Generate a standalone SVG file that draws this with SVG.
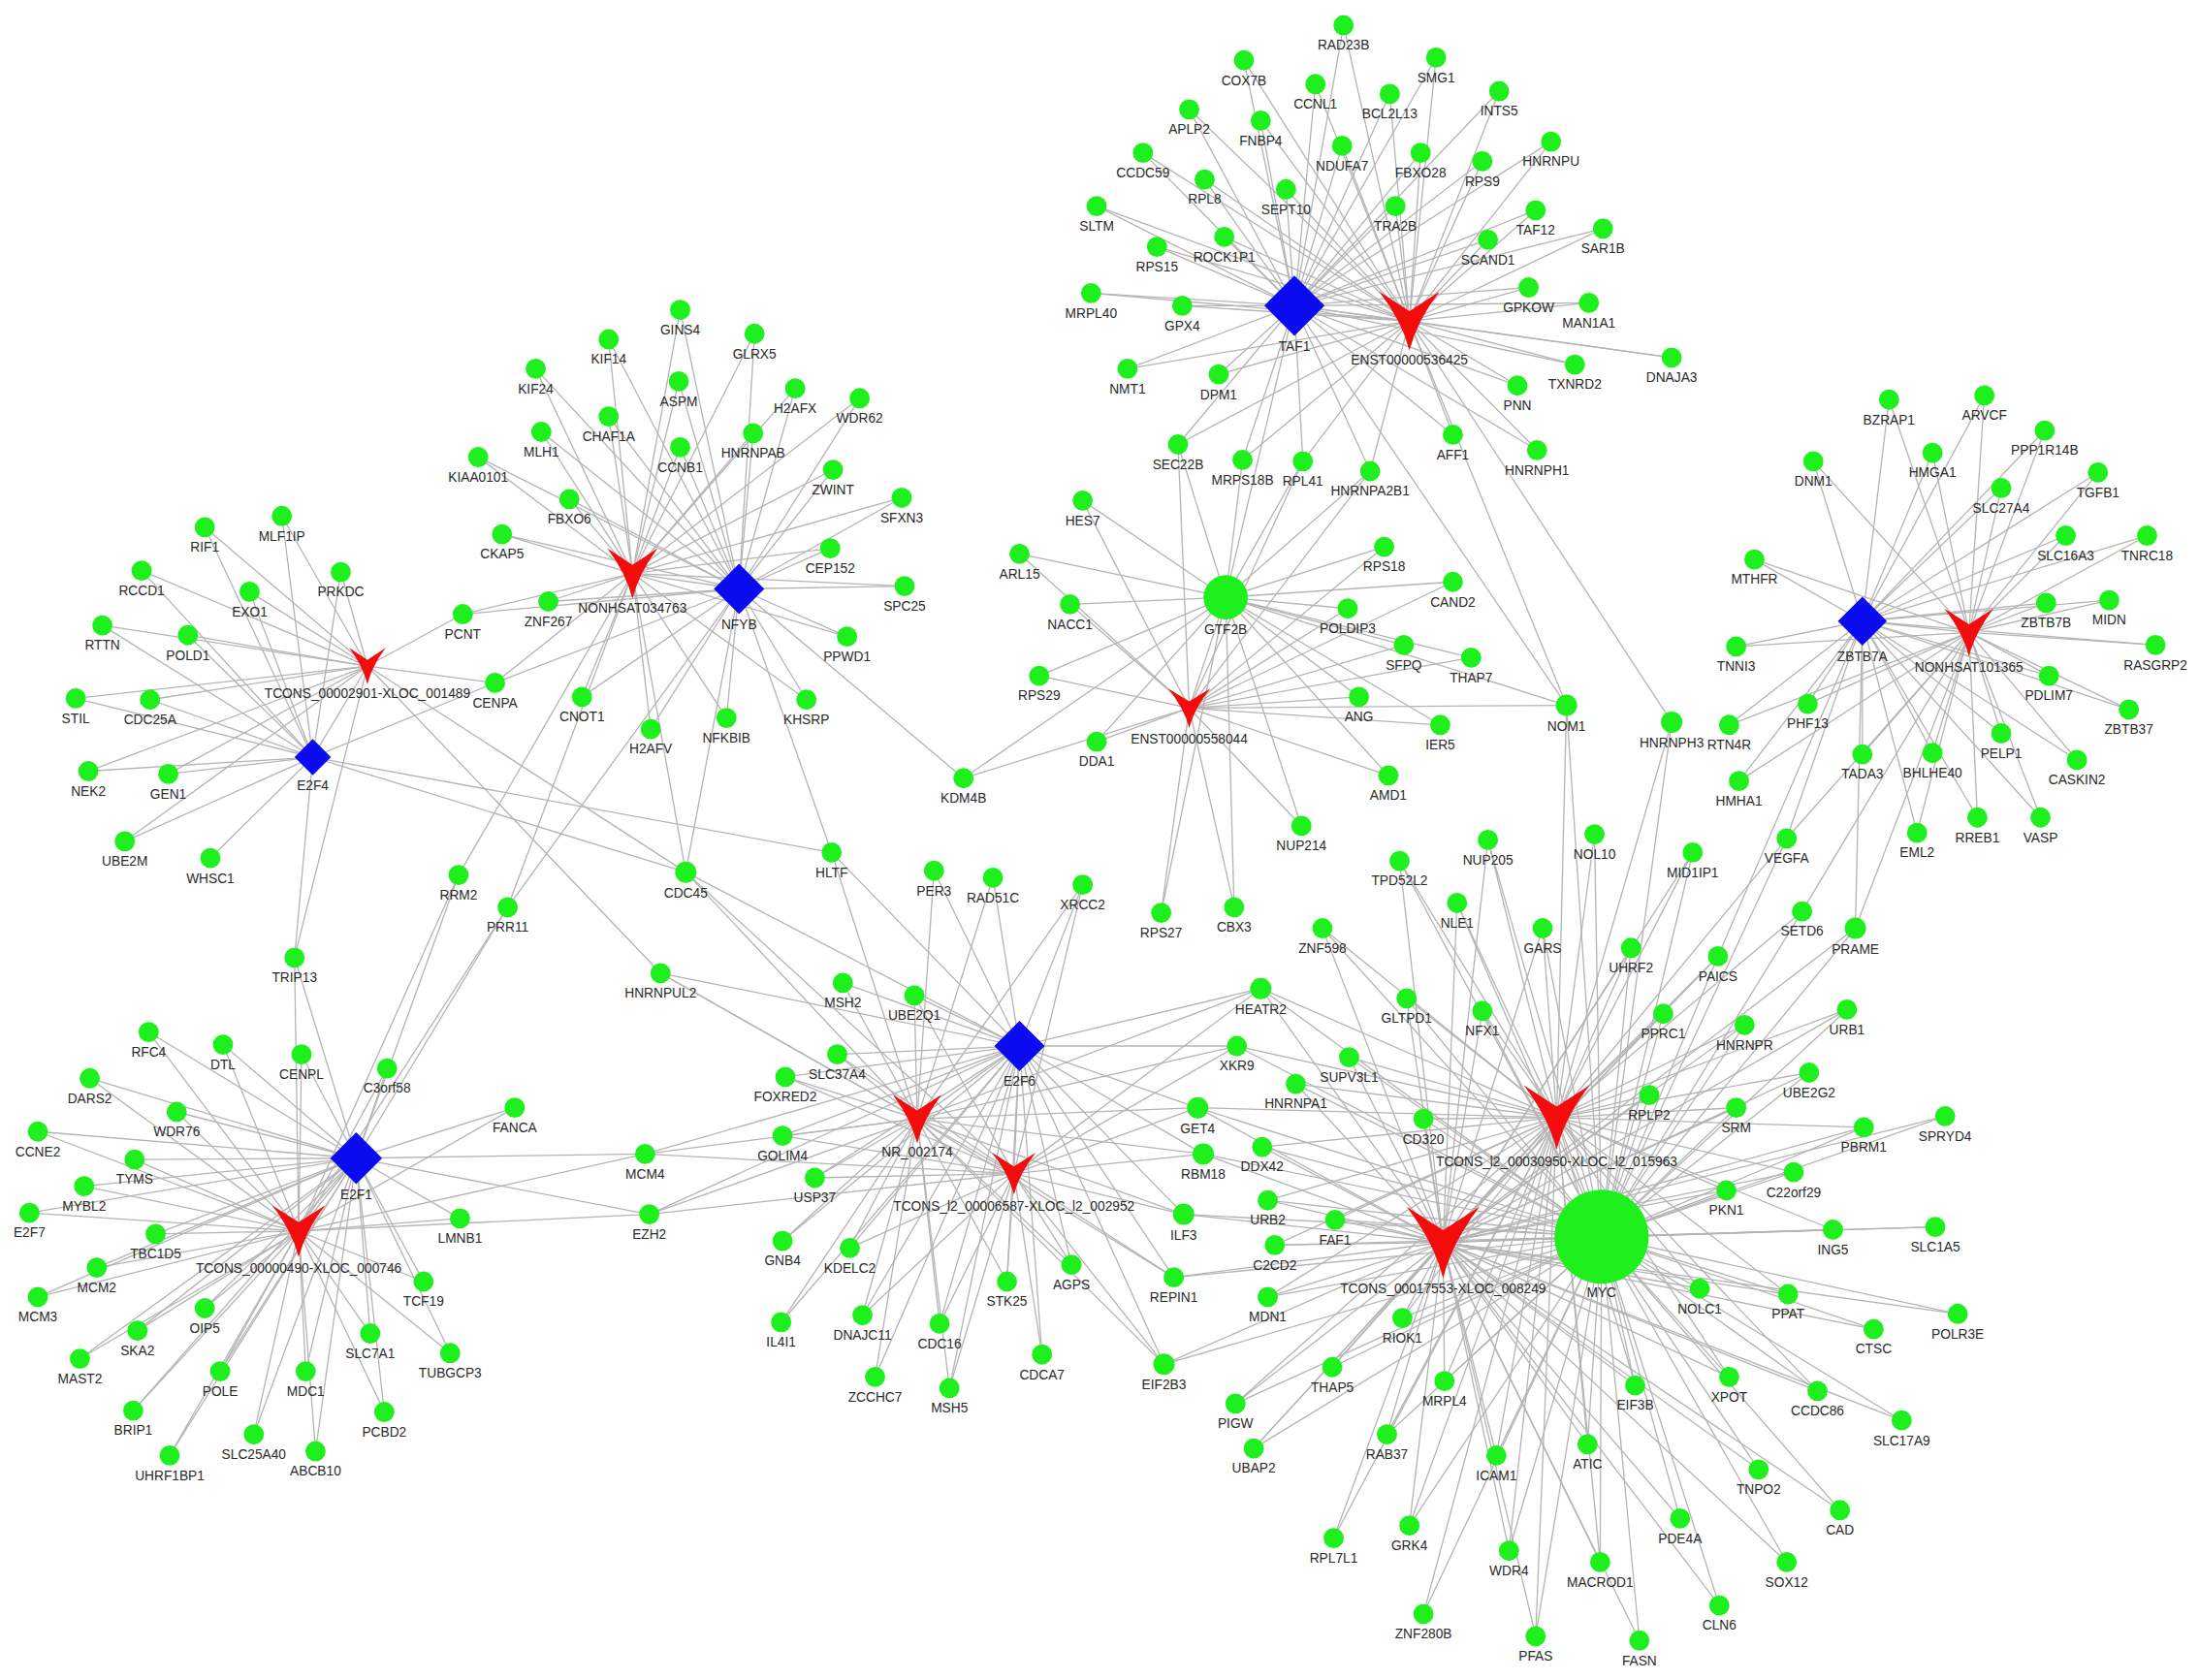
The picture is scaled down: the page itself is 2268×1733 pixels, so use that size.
<svg xmlns="http://www.w3.org/2000/svg" width="2268" height="1733" viewBox="0 0 2268 1733">
<style>
.e path{stroke:#b4b4b4;stroke-width:0.9;fill:none}
.nd circle{fill:#1ef01e}
text{font-family:"Liberation Sans",Arial,sans-serif;font-size:9.5px;fill:#2a2a2a;text-anchor:middle}
.dm{fill:#0b0bf0}
.vv{fill:#f40c0c}
</style>
<defs>
<path id="dm" d="M0 -1L1 0L0 1L-1 0Z"/>
<path id="vv" d="M-1 -1L0 -0.34L1 -1Q0.25 0 0 1Q-0.25 0 -1 -1Z"/>
</defs>
<rect width="2268" height="1733" fill="#fff"/>
<g transform="scale(1.4464)">
<g id="edges" class="e">
<g id="e-T29">
<path d="M262 475L146 376"/><path d="M262 475L201 368"/><path d="M262 475L101 407"/><path d="M262 475L178 422"/><path d="M262 475L243 408"/><path d="M262 475L73 446"/><path d="M262 475L134 453"/><path d="M262 475L54 498"/><path d="M262 475L107 499"/><path d="M262 475L63 550"/><path d="M262 475L120 552"/><path d="M262 475L89 600"/><path d="M262 475L330 438"/><path d="M262 475L353 487"/><path d="M262 475L210 683"/><path d="M262 475L471 694"/><path d="M262 475L489 622"/><path d="M262 475L223 540"/>
</g>
<g id="e-E2F4">
<path d="M223 540L146 376"/><path d="M223 540L201 368"/><path d="M223 540L101 407"/><path d="M223 540L178 422"/><path d="M223 540L243 408"/><path d="M223 540L73 446"/><path d="M223 540L134 453"/><path d="M223 540L54 498"/><path d="M223 540L107 499"/><path d="M223 540L63 550"/><path d="M223 540L120 552"/><path d="M223 540L89 600"/><path d="M223 540L150 612"/><path d="M223 540L353 487"/><path d="M223 540L210 683"/><path d="M223 540L489 622"/><path d="M223 540L593 608"/>
</g>
<g id="e-N034">
<path d="M451 409L485 221"/><path d="M451 409L434 242"/><path d="M451 409L538 238"/><path d="M451 409L382 263"/><path d="M451 409L484 272"/><path d="M451 409L567 277"/><path d="M451 409L613 284"/><path d="M451 409L434 297"/><path d="M451 409L537 309"/><path d="M451 409L386 308"/><path d="M451 409L485 319"/><path d="M451 409L341 326"/><path d="M451 409L594 335"/><path d="M451 409L406 356"/><path d="M451 409L643 355"/><path d="M451 409L358 381"/><path d="M451 409L592 391"/><path d="M451 409L645 418"/><path d="M451 409L391 429"/><path d="M451 409L604 454"/><path d="M451 409L415 497"/><path d="M451 409L575 499"/><path d="M451 409L464 520"/><path d="M451 409L518 512"/><path d="M451 409L330 438"/><path d="M451 409L353 487"/><path d="M451 409L327 624"/><path d="M451 409L362 647"/><path d="M451 409L489 622"/><path d="M451 409L527 420"/>
</g>
<g id="e-NFYB">
<path d="M527 420L485 221"/><path d="M527 420L434 242"/><path d="M527 420L538 238"/><path d="M527 420L382 263"/><path d="M527 420L484 272"/><path d="M527 420L567 277"/><path d="M527 420L613 284"/><path d="M527 420L434 297"/><path d="M527 420L537 309"/><path d="M527 420L386 308"/><path d="M527 420L485 319"/><path d="M527 420L341 326"/><path d="M527 420L594 335"/><path d="M527 420L406 356"/><path d="M527 420L643 355"/><path d="M527 420L358 381"/><path d="M527 420L592 391"/><path d="M527 420L645 418"/><path d="M527 420L391 429"/><path d="M527 420L604 454"/><path d="M527 420L415 497"/><path d="M527 420L575 499"/><path d="M527 420L464 520"/><path d="M527 420L518 512"/><path d="M527 420L330 438"/><path d="M527 420L353 487"/><path d="M527 420L362 647"/><path d="M527 420L489 622"/><path d="M527 420L687 555"/><path d="M527 420L593 608"/>
</g>
<g id="e-TAF1">
<path d="M923 218L958 18"/><path d="M923 218L887 43"/><path d="M923 218L1024 41"/><path d="M923 218L938 60"/><path d="M923 218L1069 65"/><path d="M923 218L991 67"/><path d="M923 218L848 78"/><path d="M923 218L899 86"/><path d="M923 218L957 104"/><path d="M923 218L1106 101"/><path d="M923 218L1013 109"/><path d="M923 218L1057 115"/><path d="M923 218L815 109"/><path d="M923 218L859 128"/><path d="M923 218L917 135"/><path d="M923 218L782 147"/><path d="M923 218L995 147"/><path d="M923 218L1095 150"/><path d="M923 218L1143 163"/><path d="M923 218L1061 171"/><path d="M923 218L825 176"/><path d="M923 218L873 169"/><path d="M923 218L778 209"/><path d="M923 218L843 218"/><path d="M923 218L1090 205"/><path d="M923 218L1133 216"/><path d="M923 218L804 263"/><path d="M923 218L869 267"/><path d="M923 218L1123 260"/><path d="M923 218L1192 255"/><path d="M923 218L1082 275"/><path d="M923 218L1036 310"/><path d="M923 218L1096 321"/><path d="M923 218L840 317"/><path d="M923 218L886 328"/><path d="M923 218L929 329"/><path d="M923 218L977 336"/><path d="M923 218L1005 229"/><path d="M923 218L874 426"/><path d="M923 218L1117 503"/>
</g>
<g id="e-E536">
<path d="M1005 229L958 18"/><path d="M1005 229L887 43"/><path d="M1005 229L1024 41"/><path d="M1005 229L938 60"/><path d="M1005 229L1069 65"/><path d="M1005 229L991 67"/><path d="M1005 229L848 78"/><path d="M1005 229L899 86"/><path d="M1005 229L957 104"/><path d="M1005 229L1106 101"/><path d="M1005 229L1013 109"/><path d="M1005 229L1057 115"/><path d="M1005 229L815 109"/><path d="M1005 229L859 128"/><path d="M1005 229L917 135"/><path d="M1005 229L782 147"/><path d="M1005 229L995 147"/><path d="M1005 229L1095 150"/><path d="M1005 229L1143 163"/><path d="M1005 229L1061 171"/><path d="M1005 229L825 176"/><path d="M1005 229L873 169"/><path d="M1005 229L778 209"/><path d="M1005 229L843 218"/><path d="M1005 229L1090 205"/><path d="M1005 229L1133 216"/><path d="M1005 229L804 263"/><path d="M1005 229L869 267"/><path d="M1005 229L1123 260"/><path d="M1005 229L1192 255"/><path d="M1005 229L1082 275"/><path d="M1005 229L1036 310"/><path d="M1005 229L1096 321"/><path d="M1005 229L840 317"/><path d="M1005 229L886 328"/><path d="M1005 229L929 329"/><path d="M1005 229L977 336"/><path d="M1005 229L1117 503"/><path d="M1005 229L1192 515"/>
</g>
<g id="e-GTF2B">
<path d="M874 426L772 357"/><path d="M874 426L727 395"/><path d="M874 426L987 390"/><path d="M874 426L763 431"/><path d="M874 426L1036 415"/><path d="M874 426L961 434"/><path d="M874 426L1001 460"/><path d="M874 426L1049 469"/><path d="M874 426L741 482"/><path d="M874 426L969 497"/><path d="M874 426L1027 517"/><path d="M874 426L782 529"/><path d="M874 426L990 553"/><path d="M874 426L928 589"/><path d="M874 426L828 651"/><path d="M874 426L880 647"/><path d="M874 426L687 555"/><path d="M874 426L840 317"/><path d="M874 426L886 328"/><path d="M874 426L929 329"/><path d="M874 426L977 336"/><path d="M874 426L848 505"/><path d="M874 426L1117 503"/>
</g>
<g id="e-E558">
<path d="M848 505L772 357"/><path d="M848 505L727 395"/><path d="M848 505L987 390"/><path d="M848 505L763 431"/><path d="M848 505L1036 415"/><path d="M848 505L961 434"/><path d="M848 505L1001 460"/><path d="M848 505L1049 469"/><path d="M848 505L741 482"/><path d="M848 505L969 497"/><path d="M848 505L1027 517"/><path d="M848 505L782 529"/><path d="M848 505L990 553"/><path d="M848 505L928 589"/><path d="M848 505L828 651"/><path d="M848 505L880 647"/><path d="M848 505L687 555"/><path d="M848 505L1117 503"/><path d="M848 505L840 317"/><path d="M848 505L929 329"/><path d="M848 505L977 336"/>
</g>
<g id="e-ZB7A">
<path d="M1328 443L1347 285"/><path d="M1328 443L1415 282"/><path d="M1328 443L1458 307"/><path d="M1328 443L1378 323"/><path d="M1328 443L1293 329"/><path d="M1328 443L1427 348"/><path d="M1328 443L1496 337"/><path d="M1328 443L1473 382"/><path d="M1328 443L1531 382"/><path d="M1328 443L1251 399"/><path d="M1328 443L1459 430"/><path d="M1328 443L1504 428"/><path d="M1328 443L1238 461"/><path d="M1328 443L1537 460"/><path d="M1328 443L1461 482"/><path d="M1328 443L1518 506"/><path d="M1328 443L1289 502"/><path d="M1328 443L1233 517"/><path d="M1328 443L1427 523"/><path d="M1328 443L1328 538"/><path d="M1328 443L1378 537"/><path d="M1328 443L1481 542"/><path d="M1328 443L1240 557"/><path d="M1328 443L1274 598"/><path d="M1328 443L1367 594"/><path d="M1328 443L1410 583"/><path d="M1328 443L1455 583"/><path d="M1328 443L1404 451"/><path d="M1328 443L1323 662"/><path d="M1328 443L1225 682"/>
</g>
<g id="e-N101">
<path d="M1404 451L1347 285"/><path d="M1404 451L1415 282"/><path d="M1404 451L1458 307"/><path d="M1404 451L1378 323"/><path d="M1404 451L1293 329"/><path d="M1404 451L1427 348"/><path d="M1404 451L1496 337"/><path d="M1404 451L1473 382"/><path d="M1404 451L1531 382"/><path d="M1404 451L1251 399"/><path d="M1404 451L1459 430"/><path d="M1404 451L1504 428"/><path d="M1404 451L1238 461"/><path d="M1404 451L1537 460"/><path d="M1404 451L1461 482"/><path d="M1404 451L1518 506"/><path d="M1404 451L1289 502"/><path d="M1404 451L1233 517"/><path d="M1404 451L1427 523"/><path d="M1404 451L1328 538"/><path d="M1404 451L1378 537"/><path d="M1404 451L1481 542"/><path d="M1404 451L1240 557"/><path d="M1404 451L1274 598"/><path d="M1404 451L1367 594"/><path d="M1404 451L1410 583"/><path d="M1404 451L1455 583"/><path d="M1404 451L1285 650"/><path d="M1404 451L1323 662"/>
</g>
<g id="e-E2F1">
<path d="M254 826L106 736"/><path d="M254 826L159 745"/><path d="M254 826L215 752"/><path d="M254 826L276 762"/><path d="M254 826L64 769"/><path d="M254 826L126 793"/><path d="M254 826L367 790"/><path d="M254 826L27 807"/><path d="M254 826L96 827"/><path d="M254 826L60 846"/><path d="M254 826L21 865"/><path d="M254 826L328 869"/><path d="M254 826L111 880"/><path d="M254 826L69 904"/><path d="M254 826L302 914"/><path d="M254 826L27 925"/><path d="M254 826L146 933"/><path d="M254 826L98 949"/><path d="M254 826L264 951"/><path d="M254 826L321 965"/><path d="M254 826L57 969"/><path d="M254 826L157 978"/><path d="M254 826L218 978"/><path d="M254 826L95 1006"/><path d="M254 826L274 1007"/><path d="M254 826L181 1023"/><path d="M254 826L225 1035"/><path d="M254 826L121 1038"/><path d="M254 826L210 683"/><path d="M254 826L327 624"/><path d="M254 826L362 647"/><path d="M254 826L460 823"/><path d="M254 826L463 866"/><path d="M254 826L213 878"/>
</g>
<g id="e-T490">
<path d="M213 878L106 736"/><path d="M213 878L159 745"/><path d="M213 878L215 752"/><path d="M213 878L276 762"/><path d="M213 878L64 769"/><path d="M213 878L126 793"/><path d="M213 878L367 790"/><path d="M213 878L27 807"/><path d="M213 878L96 827"/><path d="M213 878L60 846"/><path d="M213 878L21 865"/><path d="M213 878L328 869"/><path d="M213 878L111 880"/><path d="M213 878L69 904"/><path d="M213 878L302 914"/><path d="M213 878L27 925"/><path d="M213 878L146 933"/><path d="M213 878L98 949"/><path d="M213 878L264 951"/><path d="M213 878L321 965"/><path d="M213 878L57 969"/><path d="M213 878L157 978"/><path d="M213 878L218 978"/><path d="M213 878L95 1006"/><path d="M213 878L274 1007"/><path d="M213 878L181 1023"/><path d="M213 878L225 1035"/><path d="M213 878L121 1038"/><path d="M213 878L210 683"/><path d="M213 878L327 624"/><path d="M213 878L362 647"/><path d="M213 878L460 823"/><path d="M213 878L463 866"/>
</g>
<g id="e-E2F6">
<path d="M727 746L666 621"/><path d="M727 746L708 626"/><path d="M727 746L772 631"/><path d="M727 746L601 701"/><path d="M727 746L652 710"/><path d="M727 746L899 705"/><path d="M727 746L597 752"/><path d="M727 746L882 746"/><path d="M727 746L560 768"/><path d="M727 746L854 790"/><path d="M727 746L558 810"/><path d="M727 746L858 823"/><path d="M727 746L581 840"/><path d="M727 746L844 866"/><path d="M727 746L558 885"/><path d="M727 746L606 890"/><path d="M727 746L764 902"/><path d="M727 746L718 914"/><path d="M727 746L837 911"/><path d="M727 746L557 943"/><path d="M727 746L615 938"/><path d="M727 746L670 944"/><path d="M727 746L743 966"/><path d="M727 746L624 982"/><path d="M727 746L677 990"/><path d="M727 746L830 973"/><path d="M727 746L460 823"/><path d="M727 746L463 866"/><path d="M727 746L593 608"/><path d="M727 746L489 622"/><path d="M727 746L471 694"/><path d="M727 746L654 798"/><path d="M727 746L723 837"/>
</g>
<g id="e-NR">
<path d="M654 798L666 621"/><path d="M654 798L708 626"/><path d="M654 798L772 631"/><path d="M654 798L601 701"/><path d="M654 798L652 710"/><path d="M654 798L899 705"/><path d="M654 798L597 752"/><path d="M654 798L882 746"/><path d="M654 798L560 768"/><path d="M654 798L854 790"/><path d="M654 798L558 810"/><path d="M654 798L858 823"/><path d="M654 798L581 840"/><path d="M654 798L844 866"/><path d="M654 798L558 885"/><path d="M654 798L606 890"/><path d="M654 798L764 902"/><path d="M654 798L718 914"/><path d="M654 798L837 911"/><path d="M654 798L557 943"/><path d="M654 798L615 938"/><path d="M654 798L670 944"/><path d="M654 798L624 982"/><path d="M654 798L677 990"/><path d="M654 798L830 973"/><path d="M654 798L460 823"/><path d="M654 798L463 866"/><path d="M654 798L593 608"/><path d="M654 798L489 622"/><path d="M654 798L471 694"/>
</g>
<g id="e-T6587">
<path d="M723 837L772 631"/><path d="M723 837L652 710"/><path d="M723 837L899 705"/><path d="M723 837L597 752"/><path d="M723 837L882 746"/><path d="M723 837L560 768"/><path d="M723 837L854 790"/><path d="M723 837L558 810"/><path d="M723 837L858 823"/><path d="M723 837L581 840"/><path d="M723 837L844 866"/><path d="M723 837L606 890"/><path d="M723 837L764 902"/><path d="M723 837L718 914"/><path d="M723 837L837 911"/><path d="M723 837L615 938"/><path d="M723 837L670 944"/><path d="M723 837L743 966"/><path d="M723 837L677 990"/><path d="M723 837L830 973"/><path d="M723 837L460 823"/><path d="M723 837L463 866"/><path d="M723 837L471 694"/><path d="M723 837L489 622"/>
</g>
<g id="e-T30950">
<path d="M1110 797L998 614"/><path d="M1110 797L1061 599"/><path d="M1110 797L1137 595"/><path d="M1110 797L1207 608"/><path d="M1110 797L1039 644"/><path d="M1110 797L943 662"/><path d="M1110 797L1100 662"/><path d="M1110 797L1163 676"/><path d="M1110 797L1225 682"/><path d="M1110 797L1285 650"/><path d="M1110 797L1003 712"/><path d="M1110 797L1057 721"/><path d="M1110 797L1186 723"/><path d="M1110 797L1244 731"/><path d="M1110 797L1317 720"/><path d="M1110 797L962 754"/><path d="M1110 797L924 773"/><path d="M1110 797L1176 781"/><path d="M1110 797L1238 790"/><path d="M1110 797L1290 765"/><path d="M1110 797L1329 804"/><path d="M1110 797L1015 798"/><path d="M1110 797L900 818"/><path d="M1110 797L1279 836"/><path d="M1110 797L1231 849"/><path d="M1110 797L904 856"/><path d="M1110 797L952 870"/><path d="M1110 797L909 888"/><path d="M1110 797L1307 877"/><path d="M1110 797L904 925"/><path d="M1110 797L1212 919"/><path d="M1110 797L1275 923"/><path d="M1110 797L1000 940"/><path d="M1110 797L950 975"/><path d="M1110 797L1030 985"/><path d="M1110 797L1233 982"/><path d="M1110 797L1166 988"/><path d="M1110 797L1296 992"/><path d="M1110 797L881 1001"/><path d="M1110 797L894 1033"/><path d="M1110 797L989 1023"/><path d="M1110 797L1067 1038"/><path d="M1110 797L1132 1030"/><path d="M1110 797L951 1097"/><path d="M1110 797L1005 1088"/><path d="M1110 797L1076 1106"/><path d="M1110 797L1141 1114"/><path d="M1110 797L1015 1151"/><path d="M1110 797L1095 1167"/><path d="M1110 797L899 705"/><path d="M1110 797L882 746"/><path d="M1110 797L854 790"/><path d="M1110 797L1117 503"/><path d="M1110 797L1192 515"/><path d="M1110 797L1274 598"/><path d="M1110 797L1142 882"/><path d="M1110 797L1029 886"/>
</g>
<g id="e-T17553">
<path d="M1029 886L998 614"/><path d="M1029 886L1061 599"/><path d="M1029 886L1207 608"/><path d="M1029 886L1039 644"/><path d="M1029 886L943 662"/><path d="M1029 886L1100 662"/><path d="M1029 886L1163 676"/><path d="M1029 886L1225 682"/><path d="M1029 886L1003 712"/><path d="M1029 886L1057 721"/><path d="M1029 886L1186 723"/><path d="M1029 886L1244 731"/><path d="M1029 886L1317 720"/><path d="M1029 886L962 754"/><path d="M1029 886L924 773"/><path d="M1029 886L1176 781"/><path d="M1029 886L1238 790"/><path d="M1029 886L1290 765"/><path d="M1029 886L1387 796"/><path d="M1029 886L1329 804"/><path d="M1029 886L1015 798"/><path d="M1029 886L900 818"/><path d="M1029 886L1279 836"/><path d="M1029 886L1231 849"/><path d="M1029 886L904 856"/><path d="M1029 886L952 870"/><path d="M1029 886L909 888"/><path d="M1029 886L1307 877"/><path d="M1029 886L1380 875"/><path d="M1029 886L904 925"/><path d="M1029 886L1212 919"/><path d="M1029 886L1275 923"/><path d="M1029 886L1336 948"/><path d="M1029 886L1396 937"/><path d="M1029 886L1000 940"/><path d="M1029 886L950 975"/><path d="M1029 886L1030 985"/><path d="M1029 886L1233 982"/><path d="M1029 886L1166 988"/><path d="M1029 886L1296 992"/><path d="M1029 886L881 1001"/><path d="M1029 886L1356 1013"/><path d="M1029 886L894 1033"/><path d="M1029 886L989 1023"/><path d="M1029 886L1067 1038"/><path d="M1029 886L1132 1030"/><path d="M1029 886L1254 1048"/><path d="M1029 886L1312 1077"/><path d="M1029 886L951 1097"/><path d="M1029 886L1005 1088"/><path d="M1029 886L1076 1106"/><path d="M1029 886L1198 1083"/><path d="M1029 886L1141 1114"/><path d="M1029 886L1274 1114"/><path d="M1029 886L1226 1145"/><path d="M1029 886L1095 1167"/><path d="M1029 886L1169 1170"/><path d="M1029 886L1323 662"/><path d="M1029 886L899 705"/><path d="M1029 886L854 790"/><path d="M1029 886L858 823"/><path d="M1029 886L844 866"/><path d="M1029 886L837 911"/><path d="M1029 886L830 973"/><path d="M1029 886L1142 882"/>
</g>
<g id="e-MYC">
<path d="M1142 882L998 614"/><path d="M1142 882L1061 599"/><path d="M1142 882L1137 595"/><path d="M1142 882L1207 608"/><path d="M1142 882L1039 644"/><path d="M1142 882L943 662"/><path d="M1142 882L1100 662"/><path d="M1142 882L1163 676"/><path d="M1142 882L1225 682"/><path d="M1142 882L1285 650"/><path d="M1142 882L1323 662"/><path d="M1142 882L1003 712"/><path d="M1142 882L1057 721"/><path d="M1142 882L1186 723"/><path d="M1142 882L1244 731"/><path d="M1142 882L1317 720"/><path d="M1142 882L962 754"/><path d="M1142 882L924 773"/><path d="M1142 882L1176 781"/><path d="M1142 882L1238 790"/><path d="M1142 882L1290 765"/><path d="M1142 882L1387 796"/><path d="M1142 882L1329 804"/><path d="M1142 882L1015 798"/><path d="M1142 882L900 818"/><path d="M1142 882L1279 836"/><path d="M1142 882L1231 849"/><path d="M1142 882L904 856"/><path d="M1142 882L952 870"/><path d="M1142 882L909 888"/><path d="M1142 882L1307 877"/><path d="M1142 882L1380 875"/><path d="M1142 882L904 925"/><path d="M1142 882L1212 919"/><path d="M1142 882L1275 923"/><path d="M1142 882L1336 948"/><path d="M1142 882L1396 937"/><path d="M1142 882L1000 940"/><path d="M1142 882L950 975"/><path d="M1142 882L1030 985"/><path d="M1142 882L1233 982"/><path d="M1142 882L1166 988"/><path d="M1142 882L1296 992"/><path d="M1142 882L881 1001"/><path d="M1142 882L1356 1013"/><path d="M1142 882L894 1033"/><path d="M1142 882L989 1023"/><path d="M1142 882L1067 1038"/><path d="M1142 882L1132 1030"/><path d="M1142 882L1254 1048"/><path d="M1142 882L1312 1077"/><path d="M1142 882L1005 1088"/><path d="M1142 882L1076 1106"/><path d="M1142 882L1198 1083"/><path d="M1142 882L1141 1114"/><path d="M1142 882L1274 1114"/><path d="M1142 882L1226 1145"/><path d="M1142 882L1015 1151"/><path d="M1142 882L1095 1167"/><path d="M1142 882L1169 1170"/><path d="M1142 882L899 705"/><path d="M1142 882L882 746"/><path d="M1142 882L854 790"/><path d="M1142 882L858 823"/><path d="M1142 882L844 866"/><path d="M1142 882L837 911"/><path d="M1142 882L830 973"/><path d="M1142 882L1117 503"/><path d="M1142 882L1192 515"/><path d="M1142 882L1274 598"/>
</g>
</g>
<g id="nodes" class="nd">
<g id="n-RIF1"><circle cx="146" cy="376" r="7.2"/><text x="146" y="393.5">RIF1</text></g>
<g id="n-MLF1IP"><circle cx="201" cy="368" r="7.2"/><text x="201" y="385.5">MLF1IP</text></g>
<g id="n-RCCD1"><circle cx="101" cy="407" r="7.2"/><text x="101" y="424.5">RCCD1</text></g>
<g id="n-EXO1"><circle cx="178" cy="422" r="7.2"/><text x="178" y="439.5">EXO1</text></g>
<g id="n-PRKDC"><circle cx="243" cy="408" r="7.2"/><text x="243" y="425.5">PRKDC</text></g>
<g id="n-RTTN"><circle cx="73" cy="446" r="7.2"/><text x="73" y="463.5">RTTN</text></g>
<g id="n-POLD1"><circle cx="134" cy="453" r="7.2"/><text x="134" y="470.5">POLD1</text></g>
<g id="n-STIL"><circle cx="54" cy="498" r="7.2"/><text x="54" y="515.5">STIL</text></g>
<g id="n-CDC25A"><circle cx="107" cy="499" r="7.2"/><text x="107" y="516.5">CDC25A</text></g>
<g id="n-NEK2"><circle cx="63" cy="550" r="7.2"/><text x="63" y="567.5">NEK2</text></g>
<g id="n-GEN1"><circle cx="120" cy="552" r="7.2"/><text x="120" y="569.5">GEN1</text></g>
<g id="n-UBE2M"><circle cx="89" cy="600" r="7.2"/><text x="89" y="617.5">UBE2M</text></g>
<g id="n-WHSC1"><circle cx="150" cy="612" r="7.2"/><text x="150" y="629.5">WHSC1</text></g>
<g id="n-PCNT"><circle cx="330" cy="438" r="7.2"/><text x="330" y="455.5">PCNT</text></g>
<g id="n-CENPA"><circle cx="353" cy="487" r="7.2"/><text x="353" y="504.5">CENPA</text></g>
<g id="n-TRIP13"><circle cx="210" cy="683" r="7.2"/><text x="210" y="700.5">TRIP13</text></g>
<g id="n-GINS4"><circle cx="485" cy="221" r="7.2"/><text x="485" y="238.5">GINS4</text></g>
<g id="n-KIF14"><circle cx="434" cy="242" r="7.2"/><text x="434" y="259.5">KIF14</text></g>
<g id="n-GLRX5"><circle cx="538" cy="238" r="7.2"/><text x="538" y="255.5">GLRX5</text></g>
<g id="n-KIF24"><circle cx="382" cy="263" r="7.2"/><text x="382" y="280.5">KIF24</text></g>
<g id="n-ASPM"><circle cx="484" cy="272" r="7.2"/><text x="484" y="289.5">ASPM</text></g>
<g id="n-H2AFX"><circle cx="567" cy="277" r="7.2"/><text x="567" y="294.5">H2AFX</text></g>
<g id="n-WDR62"><circle cx="613" cy="284" r="7.2"/><text x="613" y="301.5">WDR62</text></g>
<g id="n-CHAF1A"><circle cx="434" cy="297" r="7.2"/><text x="434" y="314.5">CHAF1A</text></g>
<g id="n-HNRNPAB"><circle cx="537" cy="309" r="7.2"/><text x="537" y="326.5">HNRNPAB</text></g>
<g id="n-MLH1"><circle cx="386" cy="308" r="7.2"/><text x="386" y="325.5">MLH1</text></g>
<g id="n-CCNB1"><circle cx="485" cy="319" r="7.2"/><text x="485" y="336.5">CCNB1</text></g>
<g id="n-KIAA0101"><circle cx="341" cy="326" r="7.2"/><text x="341" y="343.5">KIAA0101</text></g>
<g id="n-ZWINT"><circle cx="594" cy="335" r="7.2"/><text x="594" y="352.5">ZWINT</text></g>
<g id="n-FBXO6"><circle cx="406" cy="356" r="7.2"/><text x="406" y="373.5">FBXO6</text></g>
<g id="n-SFXN3"><circle cx="643" cy="355" r="7.2"/><text x="643" y="372.5">SFXN3</text></g>
<g id="n-CKAP5"><circle cx="358" cy="381" r="7.2"/><text x="358" y="398.5">CKAP5</text></g>
<g id="n-CEP152"><circle cx="592" cy="391" r="7.2"/><text x="592" y="408.5">CEP152</text></g>
<g id="n-SPC25"><circle cx="645" cy="418" r="7.2"/><text x="645" y="435.5">SPC25</text></g>
<g id="n-ZNF267"><circle cx="391" cy="429" r="7.2"/><text x="391" y="446.5">ZNF267</text></g>
<g id="n-PPWD1"><circle cx="604" cy="454" r="7.2"/><text x="604" y="471.5">PPWD1</text></g>
<g id="n-CNOT1"><circle cx="415" cy="497" r="7.2"/><text x="415" y="514.5">CNOT1</text></g>
<g id="n-KHSRP"><circle cx="575" cy="499" r="7.2"/><text x="575" y="516.5">KHSRP</text></g>
<g id="n-H2AFV"><circle cx="464" cy="520" r="7.2"/><text x="464" y="537.5">H2AFV</text></g>
<g id="n-NFKBIB"><circle cx="518" cy="512" r="7.2"/><text x="518" y="529.5">NFKBIB</text></g>
<g id="n-KDM4B"><circle cx="687" cy="555" r="7.2"/><text x="687" y="572.5">KDM4B</text></g>
<g id="n-HLTF"><circle cx="593" cy="608" r="7.2"/><text x="593" y="625.5">HLTF</text></g>
<g id="n-CDC45"><circle cx="489" cy="622" r="7.6"/><text x="489" y="640">CDC45</text></g>
<g id="n-RRM2"><circle cx="327" cy="624" r="7.2"/><text x="327" y="641.5">RRM2</text></g>
<g id="n-PRR11"><circle cx="362" cy="647" r="7.2"/><text x="362" y="664.5">PRR11</text></g>
<g id="n-HNRNPUL2"><circle cx="471" cy="694" r="7.2"/><text x="471" y="711.5">HNRNPUL2</text></g>
<g id="n-RAD23B"><circle cx="958" cy="18" r="7.2"/><text x="958" y="35.5">RAD23B</text></g>
<g id="n-COX7B"><circle cx="887" cy="43" r="7.2"/><text x="887" y="60.5">COX7B</text></g>
<g id="n-SMG1"><circle cx="1024" cy="41" r="7.2"/><text x="1024" y="58.5">SMG1</text></g>
<g id="n-CCNL1"><circle cx="938" cy="60" r="7.2"/><text x="938" y="77.5">CCNL1</text></g>
<g id="n-INTS5"><circle cx="1069" cy="65" r="7.2"/><text x="1069" y="82.5">INTS5</text></g>
<g id="n-BCL2L13"><circle cx="991" cy="67" r="7.2"/><text x="991" y="84.5">BCL2L13</text></g>
<g id="n-APLP2"><circle cx="848" cy="78" r="7.2"/><text x="848" y="95.5">APLP2</text></g>
<g id="n-FNBP4"><circle cx="899" cy="86" r="7.2"/><text x="899" y="103.5">FNBP4</text></g>
<g id="n-NDUFA7"><circle cx="957" cy="104" r="7.2"/><text x="957" y="121.5">NDUFA7</text></g>
<g id="n-HNRNPU"><circle cx="1106" cy="101" r="7.2"/><text x="1106" y="118.5">HNRNPU</text></g>
<g id="n-FBXO28"><circle cx="1013" cy="109" r="7.2"/><text x="1013" y="126.5">FBXO28</text></g>
<g id="n-RPS9"><circle cx="1057" cy="115" r="7.2"/><text x="1057" y="132.5">RPS9</text></g>
<g id="n-CCDC59"><circle cx="815" cy="109" r="7.2"/><text x="815" y="126.5">CCDC59</text></g>
<g id="n-RPL8"><circle cx="859" cy="128" r="7.2"/><text x="859" y="145.5">RPL8</text></g>
<g id="n-SEPT10"><circle cx="917" cy="135" r="7.2"/><text x="917" y="152.5">SEPT10</text></g>
<g id="n-SLTM"><circle cx="782" cy="147" r="7.2"/><text x="782" y="164.5">SLTM</text></g>
<g id="n-TRA2B"><circle cx="995" cy="147" r="7.2"/><text x="995" y="164.5">TRA2B</text></g>
<g id="n-TAF12"><circle cx="1095" cy="150" r="7.2"/><text x="1095" y="167.5">TAF12</text></g>
<g id="n-SAR1B"><circle cx="1143" cy="163" r="7.2"/><text x="1143" y="180.5">SAR1B</text></g>
<g id="n-SCAND1"><circle cx="1061" cy="171" r="7.2"/><text x="1061" y="188.5">SCAND1</text></g>
<g id="n-RPS15"><circle cx="825" cy="176" r="7.2"/><text x="825" y="193.5">RPS15</text></g>
<g id="n-ROCK1P1"><circle cx="873" cy="169" r="7.2"/><text x="873" y="186.5">ROCK1P1</text></g>
<g id="n-MRPL40"><circle cx="778" cy="209" r="7.2"/><text x="778" y="226.5">MRPL40</text></g>
<g id="n-GPX4"><circle cx="843" cy="218" r="7.2"/><text x="843" y="235.5">GPX4</text></g>
<g id="n-GPKOW"><circle cx="1090" cy="205" r="7.2"/><text x="1090" y="222.5">GPKOW</text></g>
<g id="n-MAN1A1"><circle cx="1133" cy="216" r="7.2"/><text x="1133" y="233.5">MAN1A1</text></g>
<g id="n-NMT1"><circle cx="804" cy="263" r="7.2"/><text x="804" y="280.5">NMT1</text></g>
<g id="n-DPM1"><circle cx="869" cy="267" r="7.2"/><text x="869" y="284.5">DPM1</text></g>
<g id="n-TXNRD2"><circle cx="1123" cy="260" r="7.2"/><text x="1123" y="277.5">TXNRD2</text></g>
<g id="n-DNAJA3"><circle cx="1192" cy="255" r="7.2"/><text x="1192" y="272.5">DNAJA3</text></g>
<g id="n-PNN"><circle cx="1082" cy="275" r="7.2"/><text x="1082" y="292.5">PNN</text></g>
<g id="n-AFF1"><circle cx="1036" cy="310" r="7.2"/><text x="1036" y="327.5">AFF1</text></g>
<g id="n-HNRNPH1"><circle cx="1096" cy="321" r="7.2"/><text x="1096" y="338.5">HNRNPH1</text></g>
<g id="n-SEC22B"><circle cx="840" cy="317" r="7.2"/><text x="840" y="334.5">SEC22B</text></g>
<g id="n-MRPS18B"><circle cx="886" cy="328" r="7.2"/><text x="886" y="345.5">MRPS18B</text></g>
<g id="n-RPL41"><circle cx="929" cy="329" r="7.2"/><text x="929" y="346.5">RPL41</text></g>
<g id="n-HNRNPA2B1"><circle cx="977" cy="336" r="7.2"/><text x="977" y="353.5">HNRNPA2B1</text></g>
<g id="n-HES7"><circle cx="772" cy="357" r="7.2"/><text x="772" y="374.5">HES7</text></g>
<g id="n-ARL15"><circle cx="727" cy="395" r="7.2"/><text x="727" y="412.5">ARL15</text></g>
<g id="n-RPS18"><circle cx="987" cy="390" r="7.2"/><text x="987" y="407.5">RPS18</text></g>
<g id="n-NACC1"><circle cx="763" cy="431" r="7.2"/><text x="763" y="448.5">NACC1</text></g>
<g id="n-CAND2"><circle cx="1036" cy="415" r="7.2"/><text x="1036" y="432.5">CAND2</text></g>
<g id="n-POLDIP3"><circle cx="961" cy="434" r="7.2"/><text x="961" y="451.5">POLDIP3</text></g>
<g id="n-SFPQ"><circle cx="1001" cy="460" r="7.2"/><text x="1001" y="477.5">SFPQ</text></g>
<g id="n-THAP7"><circle cx="1049" cy="469" r="7.2"/><text x="1049" y="486.5">THAP7</text></g>
<g id="n-RPS29"><circle cx="741" cy="482" r="7.2"/><text x="741" y="499.5">RPS29</text></g>
<g id="n-ANG"><circle cx="969" cy="497" r="7.2"/><text x="969" y="514.5">ANG</text></g>
<g id="n-IER5"><circle cx="1027" cy="517" r="7.2"/><text x="1027" y="534.5">IER5</text></g>
<g id="n-DDA1"><circle cx="782" cy="529" r="7.2"/><text x="782" y="546.5">DDA1</text></g>
<g id="n-AMD1"><circle cx="990" cy="553" r="7.2"/><text x="990" y="570.5">AMD1</text></g>
<g id="n-NUP214"><circle cx="928" cy="589" r="7.2"/><text x="928" y="606.5">NUP214</text></g>
<g id="n-RPS27"><circle cx="828" cy="651" r="7.2"/><text x="828" y="668.5">RPS27</text></g>
<g id="n-CBX3"><circle cx="880" cy="647" r="7.2"/><text x="880" y="664.5">CBX3</text></g>
<g id="n-NOM1"><circle cx="1117" cy="503" r="7.6"/><text x="1117" y="521">NOM1</text></g>
<g id="n-HNRNPH3"><circle cx="1192" cy="515" r="7.6"/><text x="1192" y="533">HNRNPH3</text></g>
<g id="n-BZRAP1"><circle cx="1347" cy="285" r="7.2"/><text x="1347" y="302.5">BZRAP1</text></g>
<g id="n-ARVCF"><circle cx="1415" cy="282" r="7.2"/><text x="1415" y="299.5">ARVCF</text></g>
<g id="n-PPP1R14B"><circle cx="1458" cy="307" r="7.2"/><text x="1458" y="324.5">PPP1R14B</text></g>
<g id="n-HMGA1"><circle cx="1378" cy="323" r="7.2"/><text x="1378" y="340.5">HMGA1</text></g>
<g id="n-DNM1"><circle cx="1293" cy="329" r="7.2"/><text x="1293" y="346.5">DNM1</text></g>
<g id="n-SLC27A4"><circle cx="1427" cy="348" r="7.2"/><text x="1427" y="365.5">SLC27A4</text></g>
<g id="n-TGFB1"><circle cx="1496" cy="337" r="7.2"/><text x="1496" y="354.5">TGFB1</text></g>
<g id="n-SLC16A3"><circle cx="1473" cy="382" r="7.2"/><text x="1473" y="399.5">SLC16A3</text></g>
<g id="n-TNRC18"><circle cx="1531" cy="382" r="7.2"/><text x="1531" y="399.5">TNRC18</text></g>
<g id="n-MTHFR"><circle cx="1251" cy="399" r="7.2"/><text x="1251" y="416.5">MTHFR</text></g>
<g id="n-ZBTB7B"><circle cx="1459" cy="430" r="7.2"/><text x="1459" y="447.5">ZBTB7B</text></g>
<g id="n-MIDN"><circle cx="1504" cy="428" r="7.2"/><text x="1504" y="445.5">MIDN</text></g>
<g id="n-TNNI3"><circle cx="1238" cy="461" r="7.2"/><text x="1238" y="478.5">TNNI3</text></g>
<g id="n-RASGRP2"><circle cx="1537" cy="460" r="7.2"/><text x="1537" y="477.5">RASGRP2</text></g>
<g id="n-PDLIM7"><circle cx="1461" cy="482" r="7.2"/><text x="1461" y="499.5">PDLIM7</text></g>
<g id="n-ZBTB37"><circle cx="1518" cy="506" r="7.2"/><text x="1518" y="523.5">ZBTB37</text></g>
<g id="n-PHF13"><circle cx="1289" cy="502" r="7.2"/><text x="1289" y="519.5">PHF13</text></g>
<g id="n-RTN4R"><circle cx="1233" cy="517" r="7.2"/><text x="1233" y="534.5">RTN4R</text></g>
<g id="n-PELP1"><circle cx="1427" cy="523" r="7.2"/><text x="1427" y="540.5">PELP1</text></g>
<g id="n-TADA3"><circle cx="1328" cy="538" r="7.2"/><text x="1328" y="555.5">TADA3</text></g>
<g id="n-BHLHE40"><circle cx="1378" cy="537" r="7.2"/><text x="1378" y="554.5">BHLHE40</text></g>
<g id="n-CASKIN2"><circle cx="1481" cy="542" r="7.2"/><text x="1481" y="559.5">CASKIN2</text></g>
<g id="n-HMHA1"><circle cx="1240" cy="557" r="7.2"/><text x="1240" y="574.5">HMHA1</text></g>
<g id="n-VEGFA"><circle cx="1274" cy="598" r="7.2"/><text x="1274" y="615.5">VEGFA</text></g>
<g id="n-EML2"><circle cx="1367" cy="594" r="7.2"/><text x="1367" y="611.5">EML2</text></g>
<g id="n-RREB1"><circle cx="1410" cy="583" r="7.2"/><text x="1410" y="600.5">RREB1</text></g>
<g id="n-VASP"><circle cx="1455" cy="583" r="7.2"/><text x="1455" y="600.5">VASP</text></g>
<g id="n-RFC4"><circle cx="106" cy="736" r="7.2"/><text x="106" y="753.5">RFC4</text></g>
<g id="n-DTL"><circle cx="159" cy="745" r="7.2"/><text x="159" y="762.5">DTL</text></g>
<g id="n-CENPL"><circle cx="215" cy="752" r="7.2"/><text x="215" y="769.5">CENPL</text></g>
<g id="n-C3orf58"><circle cx="276" cy="762" r="7.2"/><text x="276" y="779.5">C3orf58</text></g>
<g id="n-DARS2"><circle cx="64" cy="769" r="7.2"/><text x="64" y="786.5">DARS2</text></g>
<g id="n-WDR76"><circle cx="126" cy="793" r="7.2"/><text x="126" y="810.5">WDR76</text></g>
<g id="n-FANCA"><circle cx="367" cy="790" r="7.2"/><text x="367" y="807.5">FANCA</text></g>
<g id="n-CCNE2"><circle cx="27" cy="807" r="7.2"/><text x="27" y="824.5">CCNE2</text></g>
<g id="n-TYMS"><circle cx="96" cy="827" r="7.2"/><text x="96" y="844.5">TYMS</text></g>
<g id="n-MYBL2"><circle cx="60" cy="846" r="7.2"/><text x="60" y="863.5">MYBL2</text></g>
<g id="n-E2F7"><circle cx="21" cy="865" r="7.2"/><text x="21" y="882.5">E2F7</text></g>
<g id="n-LMNB1"><circle cx="328" cy="869" r="7.2"/><text x="328" y="886.5">LMNB1</text></g>
<g id="n-TBC1D5"><circle cx="111" cy="880" r="7.2"/><text x="111" y="897.5">TBC1D5</text></g>
<g id="n-MCM2"><circle cx="69" cy="904" r="7.2"/><text x="69" y="921.5">MCM2</text></g>
<g id="n-TCF19"><circle cx="302" cy="914" r="7.2"/><text x="302" y="931.5">TCF19</text></g>
<g id="n-MCM3"><circle cx="27" cy="925" r="7.2"/><text x="27" y="942.5">MCM3</text></g>
<g id="n-OIP5"><circle cx="146" cy="933" r="7.2"/><text x="146" y="950.5">OIP5</text></g>
<g id="n-SKA2"><circle cx="98" cy="949" r="7.2"/><text x="98" y="966.5">SKA2</text></g>
<g id="n-SLC7A1"><circle cx="264" cy="951" r="7.2"/><text x="264" y="968.5">SLC7A1</text></g>
<g id="n-TUBGCP3"><circle cx="321" cy="965" r="7.2"/><text x="321" y="982.5">TUBGCP3</text></g>
<g id="n-MAST2"><circle cx="57" cy="969" r="7.2"/><text x="57" y="986.5">MAST2</text></g>
<g id="n-POLE"><circle cx="157" cy="978" r="7.2"/><text x="157" y="995.5">POLE</text></g>
<g id="n-MDC1"><circle cx="218" cy="978" r="7.2"/><text x="218" y="995.5">MDC1</text></g>
<g id="n-BRIP1"><circle cx="95" cy="1006" r="7.2"/><text x="95" y="1023.5">BRIP1</text></g>
<g id="n-PCBD2"><circle cx="274" cy="1007" r="7.2"/><text x="274" y="1024.5">PCBD2</text></g>
<g id="n-SLC25A40"><circle cx="181" cy="1023" r="7.2"/><text x="181" y="1040.5">SLC25A40</text></g>
<g id="n-ABCB10"><circle cx="225" cy="1035" r="7.2"/><text x="225" y="1052.5">ABCB10</text></g>
<g id="n-UHRF1BP1"><circle cx="121" cy="1038" r="7.2"/><text x="121" y="1055.5">UHRF1BP1</text></g>
<g id="n-MCM4"><circle cx="460" cy="823" r="7.2"/><text x="460" y="840.5">MCM4</text></g>
<g id="n-EZH2"><circle cx="463" cy="866" r="7.2"/><text x="463" y="883.5">EZH2</text></g>
<g id="n-PER3"><circle cx="666" cy="621" r="7.2"/><text x="666" y="638.5">PER3</text></g>
<g id="n-RAD51C"><circle cx="708" cy="626" r="7.2"/><text x="708" y="643.5">RAD51C</text></g>
<g id="n-XRCC2"><circle cx="772" cy="631" r="7.2"/><text x="772" y="648.5">XRCC2</text></g>
<g id="n-MSH2"><circle cx="601" cy="701" r="7.2"/><text x="601" y="718.5">MSH2</text></g>
<g id="n-UBE2Q1"><circle cx="652" cy="710" r="7.2"/><text x="652" y="727.5">UBE2Q1</text></g>
<g id="n-HEATR2"><circle cx="899" cy="705" r="7.6"/><text x="899" y="723">HEATR2</text></g>
<g id="n-SLC37A4"><circle cx="597" cy="752" r="7.2"/><text x="597" y="769.5">SLC37A4</text></g>
<g id="n-XKR9"><circle cx="882" cy="746" r="7.2"/><text x="882" y="763.5">XKR9</text></g>
<g id="n-FOXRED2"><circle cx="560" cy="768" r="7.2"/><text x="560" y="785.5">FOXRED2</text></g>
<g id="n-GET4"><circle cx="854" cy="790" r="7.6"/><text x="854" y="808">GET4</text></g>
<g id="n-GOLIM4"><circle cx="558" cy="810" r="7.2"/><text x="558" y="827.5">GOLIM4</text></g>
<g id="n-RBM18"><circle cx="858" cy="823" r="7.6"/><text x="858" y="841">RBM18</text></g>
<g id="n-USP37"><circle cx="581" cy="840" r="7.2"/><text x="581" y="857.5">USP37</text></g>
<g id="n-ILF3"><circle cx="844" cy="866" r="7.6"/><text x="844" y="884">ILF3</text></g>
<g id="n-GNB4"><circle cx="558" cy="885" r="7.2"/><text x="558" y="902.5">GNB4</text></g>
<g id="n-KDELC2"><circle cx="606" cy="890" r="7.2"/><text x="606" y="907.5">KDELC2</text></g>
<g id="n-AGPS"><circle cx="764" cy="902" r="7.2"/><text x="764" y="919.5">AGPS</text></g>
<g id="n-STK25"><circle cx="718" cy="914" r="7.2"/><text x="718" y="931.5">STK25</text></g>
<g id="n-REPIN1"><circle cx="837" cy="911" r="7.2"/><text x="837" y="928.5">REPIN1</text></g>
<g id="n-IL4I1"><circle cx="557" cy="943" r="7.2"/><text x="557" y="960.5">IL4I1</text></g>
<g id="n-DNAJC11"><circle cx="615" cy="938" r="7.2"/><text x="615" y="955.5">DNAJC11</text></g>
<g id="n-CDC16"><circle cx="670" cy="944" r="7.2"/><text x="670" y="961.5">CDC16</text></g>
<g id="n-CDCA7"><circle cx="743" cy="966" r="7.2"/><text x="743" y="983.5">CDCA7</text></g>
<g id="n-ZCCHC7"><circle cx="624" cy="982" r="7.2"/><text x="624" y="999.5">ZCCHC7</text></g>
<g id="n-MSH5"><circle cx="677" cy="990" r="7.2"/><text x="677" y="1007.5">MSH5</text></g>
<g id="n-EIF2B3"><circle cx="830" cy="973" r="7.6"/><text x="830" y="991">EIF2B3</text></g>
<g id="n-TPD52L2"><circle cx="998" cy="614" r="7.2"/><text x="998" y="631.5">TPD52L2</text></g>
<g id="n-NUP205"><circle cx="1061" cy="599" r="7.2"/><text x="1061" y="616.5">NUP205</text></g>
<g id="n-NOL10"><circle cx="1137" cy="595" r="7.2"/><text x="1137" y="612.5">NOL10</text></g>
<g id="n-MID1IP1"><circle cx="1207" cy="608" r="7.2"/><text x="1207" y="625.5">MID1IP1</text></g>
<g id="n-NLE1"><circle cx="1039" cy="644" r="7.2"/><text x="1039" y="661.5">NLE1</text></g>
<g id="n-ZNF598"><circle cx="943" cy="662" r="7.2"/><text x="943" y="679.5">ZNF598</text></g>
<g id="n-GARS"><circle cx="1100" cy="662" r="7.2"/><text x="1100" y="679.5">GARS</text></g>
<g id="n-UHRF2"><circle cx="1163" cy="676" r="7.2"/><text x="1163" y="693.5">UHRF2</text></g>
<g id="n-PAICS"><circle cx="1225" cy="682" r="7.2"/><text x="1225" y="699.5">PAICS</text></g>
<g id="n-SETD6"><circle cx="1285" cy="650" r="7.2"/><text x="1285" y="667.5">SETD6</text></g>
<g id="n-PRAME"><circle cx="1323" cy="662" r="7.6"/><text x="1323" y="680">PRAME</text></g>
<g id="n-GLTPD1"><circle cx="1003" cy="712" r="7.2"/><text x="1003" y="729.5">GLTPD1</text></g>
<g id="n-NFX1"><circle cx="1057" cy="721" r="7.2"/><text x="1057" y="738.5">NFX1</text></g>
<g id="n-PPRC1"><circle cx="1186" cy="723" r="7.2"/><text x="1186" y="740.5">PPRC1</text></g>
<g id="n-HNRNPR"><circle cx="1244" cy="731" r="7.2"/><text x="1244" y="748.5">HNRNPR</text></g>
<g id="n-URB1"><circle cx="1317" cy="720" r="7.2"/><text x="1317" y="737.5">URB1</text></g>
<g id="n-SUPV3L1"><circle cx="962" cy="754" r="7.2"/><text x="962" y="771.5">SUPV3L1</text></g>
<g id="n-HNRNPA1"><circle cx="924" cy="773" r="7.2"/><text x="924" y="790.5">HNRNPA1</text></g>
<g id="n-RPLP2"><circle cx="1176" cy="781" r="7.2"/><text x="1176" y="798.5">RPLP2</text></g>
<g id="n-SRM"><circle cx="1238" cy="790" r="7.2"/><text x="1238" y="807.5">SRM</text></g>
<g id="n-UBE2G2"><circle cx="1290" cy="765" r="7.2"/><text x="1290" y="782.5">UBE2G2</text></g>
<g id="n-SPRYD4"><circle cx="1387" cy="796" r="7.2"/><text x="1387" y="813.5">SPRYD4</text></g>
<g id="n-PBRM1"><circle cx="1329" cy="804" r="7.2"/><text x="1329" y="821.5">PBRM1</text></g>
<g id="n-CD320"><circle cx="1015" cy="798" r="7.2"/><text x="1015" y="815.5">CD320</text></g>
<g id="n-DDX42"><circle cx="900" cy="818" r="7.2"/><text x="900" y="835.5">DDX42</text></g>
<g id="n-C22orf29"><circle cx="1279" cy="836" r="7.2"/><text x="1279" y="853.5">C22orf29</text></g>
<g id="n-PKN1"><circle cx="1231" cy="849" r="7.2"/><text x="1231" y="866.5">PKN1</text></g>
<g id="n-URB2"><circle cx="904" cy="856" r="7.2"/><text x="904" y="873.5">URB2</text></g>
<g id="n-FAF1"><circle cx="952" cy="870" r="7.2"/><text x="952" y="887.5">FAF1</text></g>
<g id="n-C2CD2"><circle cx="909" cy="888" r="7.2"/><text x="909" y="905.5">C2CD2</text></g>
<g id="n-ING5"><circle cx="1307" cy="877" r="7.2"/><text x="1307" y="894.5">ING5</text></g>
<g id="n-SLC1A5"><circle cx="1380" cy="875" r="7.2"/><text x="1380" y="892.5">SLC1A5</text></g>
<g id="n-MDN1"><circle cx="904" cy="925" r="7.2"/><text x="904" y="942.5">MDN1</text></g>
<g id="n-NOLC1"><circle cx="1212" cy="919" r="7.2"/><text x="1212" y="936.5">NOLC1</text></g>
<g id="n-PPAT"><circle cx="1275" cy="923" r="7.2"/><text x="1275" y="940.5">PPAT</text></g>
<g id="n-CTSC"><circle cx="1336" cy="948" r="7.2"/><text x="1336" y="965.5">CTSC</text></g>
<g id="n-POLR3E"><circle cx="1396" cy="937" r="7.2"/><text x="1396" y="954.5">POLR3E</text></g>
<g id="n-RIOK1"><circle cx="1000" cy="940" r="7.2"/><text x="1000" y="957.5">RIOK1</text></g>
<g id="n-THAP5"><circle cx="950" cy="975" r="7.2"/><text x="950" y="992.5">THAP5</text></g>
<g id="n-MRPL4"><circle cx="1030" cy="985" r="7.2"/><text x="1030" y="1002.5">MRPL4</text></g>
<g id="n-XPOT"><circle cx="1233" cy="982" r="7.2"/><text x="1233" y="999.5">XPOT</text></g>
<g id="n-EIF3B"><circle cx="1166" cy="988" r="7.2"/><text x="1166" y="1005.5">EIF3B</text></g>
<g id="n-CCDC86"><circle cx="1296" cy="992" r="7.2"/><text x="1296" y="1009.5">CCDC86</text></g>
<g id="n-PIGW"><circle cx="881" cy="1001" r="7.2"/><text x="881" y="1018.5">PIGW</text></g>
<g id="n-SLC17A9"><circle cx="1356" cy="1013" r="7.2"/><text x="1356" y="1030.5">SLC17A9</text></g>
<g id="n-UBAP2"><circle cx="894" cy="1033" r="7.2"/><text x="894" y="1050.5">UBAP2</text></g>
<g id="n-RAB37"><circle cx="989" cy="1023" r="7.2"/><text x="989" y="1040.5">RAB37</text></g>
<g id="n-ICAM1"><circle cx="1067" cy="1038" r="7.2"/><text x="1067" y="1055.5">ICAM1</text></g>
<g id="n-ATIC"><circle cx="1132" cy="1030" r="7.2"/><text x="1132" y="1047.5">ATIC</text></g>
<g id="n-TNPO2"><circle cx="1254" cy="1048" r="7.2"/><text x="1254" y="1065.5">TNPO2</text></g>
<g id="n-CAD"><circle cx="1312" cy="1077" r="7.2"/><text x="1312" y="1094.5">CAD</text></g>
<g id="n-RPL7L1"><circle cx="951" cy="1097" r="7.2"/><text x="951" y="1114.5">RPL7L1</text></g>
<g id="n-GRK4"><circle cx="1005" cy="1088" r="7.2"/><text x="1005" y="1105.5">GRK4</text></g>
<g id="n-WDR4"><circle cx="1076" cy="1106" r="7.2"/><text x="1076" y="1123.5">WDR4</text></g>
<g id="n-PDE4A"><circle cx="1198" cy="1083" r="7.2"/><text x="1198" y="1100.5">PDE4A</text></g>
<g id="n-MACROD1"><circle cx="1141" cy="1114" r="7.2"/><text x="1141" y="1131.5">MACROD1</text></g>
<g id="n-SOX12"><circle cx="1274" cy="1114" r="7.2"/><text x="1274" y="1131.5">SOX12</text></g>
<g id="n-CLN6"><circle cx="1226" cy="1145" r="7.2"/><text x="1226" y="1162.5">CLN6</text></g>
<g id="n-ZNF280B"><circle cx="1015" cy="1151" r="7.2"/><text x="1015" y="1168.5">ZNF280B</text></g>
<g id="n-PFAS"><circle cx="1095" cy="1167" r="7.2"/><text x="1095" y="1184.5">PFAS</text></g>
<g id="n-FASN"><circle cx="1169" cy="1170" r="7.2"/><text x="1169" y="1187.5">FASN</text></g>
<g id="n-GTF2B"><circle cx="874" cy="426" r="15.8"/><text x="874" y="452">GTF2B</text></g>
<g id="n-MYC"><circle cx="1142" cy="882" r="33.6"/><text x="1142" y="925">MYC</text></g>
</g>
<g id="hubs">
<g id="n-E2F4"><use href="#dm" class="dm" transform="translate(223 540) scale(13)"/><text x="223" y="563.5">E2F4</text></g>
<g id="n-NFYB"><use href="#dm" class="dm" transform="translate(527 420) scale(18)"/><text x="527" y="448.5">NFYB</text></g>
<g id="n-TAF1"><use href="#dm" class="dm" transform="translate(923 218) scale(21.5)"/><text x="923" y="250">TAF1</text></g>
<g id="n-ZBTB7A"><use href="#dm" class="dm" transform="translate(1328 443) scale(17.5)"/><text x="1328" y="471.5">ZBTB7A</text></g>
<g id="n-E2F1"><use href="#dm" class="dm" transform="translate(254 826) scale(18.5)"/><text x="254" y="855">E2F1</text></g>
<g id="n-E2F6"><use href="#dm" class="dm" transform="translate(727 746) scale(18)"/><text x="727" y="774">E2F6</text></g>
<g id="n-TCONS_00002901"><use href="#vv" class="vv" transform="translate(262 475) scale(13 13)"/><text x="262" y="497.5">TCONS_00002901-XLOC_001489</text></g>
<g id="n-NONHSAT034763"><use href="#vv" class="vv" transform="translate(451 409) scale(18 18)"/><text x="451" y="437">NONHSAT034763</text></g>
<g id="n-ENST00000536425"><use href="#vv" class="vv" transform="translate(1005 229) scale(21.5 21)"/><text x="1005" y="260">ENST00000536425</text></g>
<g id="n-ENST00000558044"><use href="#vv" class="vv" transform="translate(848 505) scale(15 14)"/><text x="848" y="530">ENST00000558044</text></g>
<g id="n-NONHSAT101365"><use href="#vv" class="vv" transform="translate(1404 451) scale(17.5 17)"/><text x="1404" y="479">NONHSAT101365</text></g>
<g id="n-TCONS_00000490"><use href="#vv" class="vv" transform="translate(213 878) scale(19 18.5)"/><text x="213" y="907.5">TCONS_00000490-XLOC_000746</text></g>
<g id="n-NR_002174"><use href="#vv" class="vv" transform="translate(654 798) scale(17.5 17.5)"/><text x="654" y="825">NR_002174</text></g>
<g id="n-TCONS_l2_00006587"><use href="#vv" class="vv" transform="translate(723 837) scale(15.5 15)"/><text x="723" y="863.5">TCONS_l2_00006587-XLOC_l2_002952</text></g>
<g id="n-TCONS_l2_00030950"><use href="#vv" class="vv" transform="translate(1110 797) scale(23.5 23)"/><text x="1110" y="831.5">TCONS_l2_00030950-XLOC_l2_015963</text></g>
<g id="n-TCONS_00017553"><use href="#vv" class="vv" transform="translate(1029 886) scale(26 25.5)"/><text x="1029" y="922.5">TCONS_00017553-XLOC_008249</text></g>
</g>
</g>
</svg>
